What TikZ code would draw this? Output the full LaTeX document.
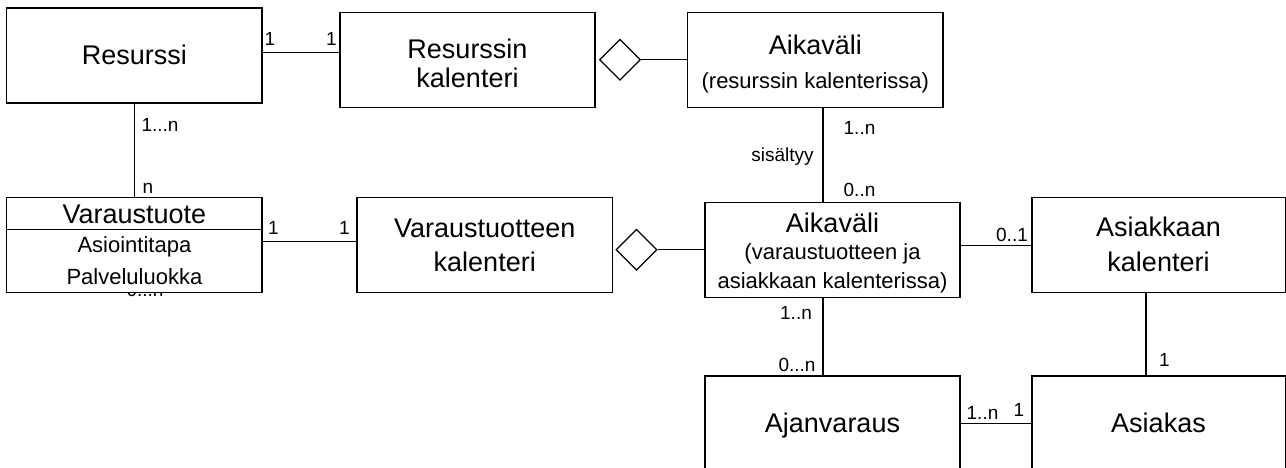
\documentclass[tikz,border=0pt]{standalone}
\usepackage{fontspec}
\setmainfont{Liberation Sans}
\usetikzlibrary{shapes.geometric}
\newcommand\BigTxt{\fontsize{27}{31}\selectfont}
\newcommand\MidTxt{\fontsize{22}{26}\selectfont}
\newcommand\SmallTxt{\fontsize{19}{22}\selectfont}
\begin{document}
\begin{tikzpicture}[x=1pt,y=-1pt,
  ent/.style={draw, line width=1.3pt, fill=white, rectangle, minimum height=95pt, inner sep=0pt},
  agg/.style={draw, line width=1.3pt, fill=white, diamond, inner sep=0pt, minimum width=41pt, minimum height=41pt},
  conn/.style={line width=1.3pt},
  bigtxt/.style={font=\BigTxt, inner sep=0pt, text height=19.3pt, text depth=0pt},
  midtxt/.style={font=\MidTxt, inner sep=0pt, text height=15.75pt, text depth=0pt},
  mult/.style={font=\SmallTxt, inner sep=0pt, text height=13.6pt, text depth=0pt}]
\useasboundingbox (0,0) rectangle (1286,468);
\fill[white] (0,0) rectangle (1286,468);

% label hidden behind the lower edge of the Varaustuote box
\node[font=\SmallTxt, inner sep=0pt, anchor=base] (hid) at (145,296) {0...n};

% entity boxes
\node[ent, minimum width=255.3pt] (res)    at (134.4,55.4)  {};
\node[ent, minimum width=255pt]   (reskal) at (467.5,59.8)  {};
\node[ent, minimum width=255.5pt] (aik1)   at (815.25,59.8) {};
\node[ent, minimum width=255.3pt, minimum height=95.4pt] (vt) at (134.4,245) {};
\node[ent, minimum width=255.5pt] (vtkal)  at (484.75,244.8) {};
\node[ent, minimum width=255pt]   (aik2)   at (832.5,249.8) {};
\node[ent, minimum width=253.3pt] (askal)  at (1158.65,245)  {};
\node[ent, minimum width=255pt]   (ajan)   at (832.5,423.5) {};
\node[ent, minimum width=253.3pt] (asi)    at (1158.65,423.5) {};

% aggregation diamonds
\node[agg] (d1) at (620,59.7) {};
\node[agg] (d2) at (636.5,249.7) {};

% class compartment divider
\draw[conn] (vt.west |- 0,229.3) -- (vt.east |- 0,229.3);

% texts inside the boxes
\node[bigtxt] (t1)  at (134.4,55)   {Resurssi};
\node[bigtxt] (t2)  at (467.5,48.5) {Resurssin};
\node[bigtxt] (t3)  at (467.5,78.3) {kalenteri};
\node[bigtxt] (t4)  at (815.3,44.5) {Aikaväli};
\node[midtxt] (t5)  at (815.3,80.5) {(resurssin kalenterissa)};
\node[bigtxt] (t6)  at (134.4,214)  {Varaustuote};
\node[midtxt] (t7)  at (134.4,245)  {Asiointitapa};
\node[midtxt] (t8)  at (134.4,276.5) {Palveluluokka};
\node[bigtxt] (t9)  at (484.75,228) {Varaustuotteen};
\node[bigtxt] (t10) at (484.75,261.5) {kalenteri};
\node[bigtxt] (t11) at (832.5,223)  {Aikaväli};
\node[midtxt] (t12) at (832.5,252)  {(varaustuotteen ja};
\node[midtxt] (t13) at (832.5,280.5) {asiakkaan kalenterissa)};
\node[bigtxt] (t14) at (1158.5,227) {Asiakkaan};
\node[bigtxt] (t15) at (1158.5,261.5) {kalenteri};
\node[bigtxt] (t16) at (832.5,423)  {Ajanvaraus};
\node[bigtxt] (t17) at (1158.5,423) {Asiakas};

% connectors
\draw[conn] (res.east |- 0,52.7) -- (reskal.west |- 0,52.7);
\draw[conn] (d1.east) -- (aik1.west |- d1.east);
\draw[conn] (res.south) -- (vt.north);
\draw[conn] (vt.east |- 0,241.7) -- (vtkal.west |- 0,241.7);
\draw[conn] (d2.east) -- (aik2.west |- d2.east);
\draw[conn] (aik1.south -| 823,0) -- (aik2.north -| 823,0);
\draw[conn] (aik2.east |- 0,245.7) -- (askal.west |- 0,245.7);
\draw[conn] (aik2.south -| 823,0) -- (ajan.north -| 823,0);
\draw[conn] (askal.south -| 1146,0) -- (asi.north -| 1146,0);
\draw[conn] (ajan.east |- 0,423.3) -- (asi.west |- 0,423.3);

% multiplicities and role names
\node[mult] (m1)  at (270,39)     {1};
\node[mult] (m2)  at (331.5,39)   {1};
\node[mult] (m3)  at (160,125)    {1...n};
\node[mult] (m4)  at (148,186.5)  {n};
\node[mult] (m5)  at (859.5,128)  {1..n};
\node[mult, text depth=4pt] (m6) at (782.5,157) {sisältyy};
\node[mult] (m7)  at (859.5,190)  {0..n};
\node[mult] (m8)  at (273.5,228)  {1};
\node[mult] (m9)  at (344.5,228)  {1};
\node[mult] (m10) at (1012,235)   {0..1};
\node[mult] (m11) at (796,313)    {1..n};
\node[mult] (m12) at (797,365)    {0...n};
\node[mult] (m13) at (1164.5,360) {1};
\node[mult] (m14) at (982.5,412.5) {1..n};
\node[mult] (m15) at (1019,410)   {1};
\end{tikzpicture}
\end{document}
